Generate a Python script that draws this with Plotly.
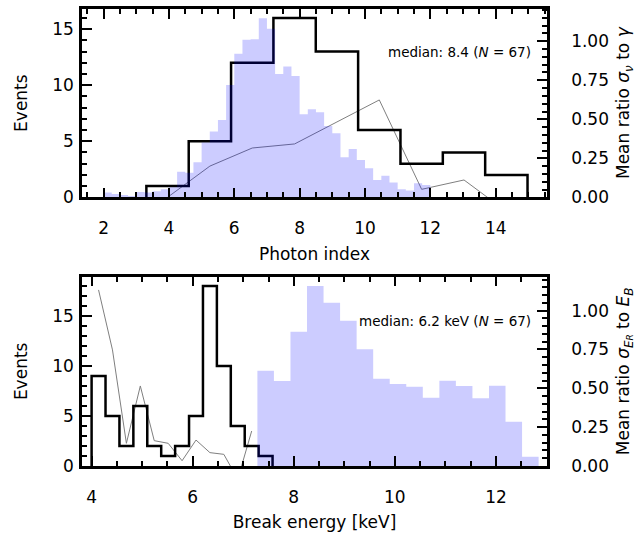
import plotly.graph_objects as go

# ---------------- Photon index panel ----------------
# fine-binned distribution (filled)
gamma_fine_lo = 2.0
gamma_fine_width = 0.25
gamma_fine_counts = [0.42, 0.30, 0.20, 0.12, 0.48, 0.42, 0.54, 0.71, 0.90, 2.29,
                     2.20, 3.13, 4.88, 5.86, 6.90, 10.03, 12.80, 14.05, 14.10, 15.98,
                     15.03, 11.00, 11.67, 10.83, 7.41, 7.86, 7.59, 6.37, 5.71, 3.57,
                     4.32, 3.33, 2.59, 1.55, 1.93, 1.31, 0.71, 0.60, 1.25, 1.10]
# coarse event histogram (step)
gamma_lo = 3.31
gamma_width = 1.296
gamma_counts = [1, 5, 12, 16, 13, 6, 3, 4, 2]
# mean ratio sigma_nu / gamma per coarse bin
gamma_ratio = [0.0, 0.20, 0.316, 0.342, 0.483, 0.624, 0.051, 0.111, -0.09]
gamma_label = "median: 8.4 (<i>N</i> = 67)"

# ---------------- Break energy panel ----------------
eb_fine_lo = 7.28
eb_fine_width = 0.3273
eb_fine_counts = [9.53, 8.50, 13.43, 18.00, 16.33, 14.53, 11.67, 8.73, 8.20, 7.93,
                  6.83, 8.53, 8.00, 6.77, 8.03, 4.43, 0.93]
eb_lo = 4.0
eb_width = 0.2754
eb_counts = [9, 5, 2, 6, 2, 1, 2, 5, 18, 10, 4, 2, 1]
eb_ratio = [1.133, 0.747, 0.146, 0.515, 0.163, 0.146, 0.034, 0.167, 0.086, 0.075,
            -0.085, 0.225, None]
eb_label = "median: 6.2 keV (<i>N</i> = 67)"

FONT = "DejaVu Sans"
FILL = "rgba(0,0,255,0.2)"


def edges(lo, width, n):
    return [lo + width * i for i in range(n + 1)]


def centers(lo, width, n):
    return [lo + width * (i + 0.5) for i in range(n)]


def step_outline(lo, width, counts):
    e = edges(lo, width, len(counts))
    return [e[0]] + e[:-1] + [e[-1]], [0] + list(counts) + [0]


def filled_hist(lo, width, counts):
    e = edges(lo, width, len(counts))
    return e, list(counts) + [counts[-1]]


fig = go.Figure()

panels = [
    # x axis, ratio axis (base), events axis (overlay), data
    ("x", "y", "y2", gamma_fine_lo, gamma_fine_width, gamma_fine_counts,
     gamma_lo, gamma_width, gamma_counts, gamma_ratio),
    ("x2", "y3", "y4", eb_fine_lo, eb_fine_width, eb_fine_counts,
     eb_lo, eb_width, eb_counts, eb_ratio),
]

for xa, ya_ratio, ya_ev, flo, fw, fc, lo, w, c, r in panels:
    # ratio curve on the underlying axis
    fig.add_trace(go.Scatter(
        x=centers(lo, w, len(c)), y=r, xaxis=xa, yaxis=ya_ratio,
        mode="lines", line=dict(color="#7f7f7f", width=1),
        showlegend=False, hoverinfo="skip", connectgaps=False))
    # coarse event histogram
    sx, sy = step_outline(lo, w, c)
    fig.add_trace(go.Scatter(
        x=sx, y=sy, xaxis=xa, yaxis=ya_ev, mode="lines",
        line=dict(color="black", width=2.5, shape="hv"),
        showlegend=False, hoverinfo="skip"))
    # translucent fine distribution drawn on top
    hx, hy = filled_hist(flo, fw, fc)
    fig.add_trace(go.Scatter(
        x=hx, y=hy, xaxis=xa, yaxis=ya_ev, mode="lines",
        line=dict(width=0, shape="hv"), fill="tozeroy", fillcolor=FILL,
        showlegend=False, hoverinfo="skip"))

tickfont = dict(family=FONT, size=17, color="black")
titlefont = dict(family=FONT, size=17, color="black")

common = dict(
    showline=True, linecolor="black", linewidth=2.5, ticks="inside",
    ticklen=10, tickwidth=2, tickcolor="black", showgrid=False,
    zeroline=False, tickfont=tickfont, automargin=False,
)
minor_x = dict(dtick=0.5, ticklen=5.5, tickwidth=1.6, ticks="inside", tickcolor="black")
minor_r = dict(dtick=0.05, ticklen=5.5, tickwidth=1.6, ticks="inside", tickcolor="black")
minor_e = dict(dtick=1, ticklen=5.5, tickwidth=1.6, ticks="inside", tickcolor="black")

h_plot = 534 - 9 - 68
top_dom = [(466 - 197.3) / h_plot, 1.0]
bot_dom = [0.0, (466 - 276.7) / h_plot]

fig.update_layout(
    width=636, height=534,
    margin=dict(l=82, r=89, t=9, b=68),
    paper_bgcolor="white", plot_bgcolor="white",
    font=dict(family=FONT, color="black"),
    xaxis=dict(**common, anchor="y", domain=[0, 1], range=[1.34, 15.57],
               tick0=0, dtick=2, mirror="ticks", ticklabelstandoff=14,
               minor=minor_x,
               title=dict(text="Photon index", font=titlefont, standoff=11)),
    yaxis=dict(**common, anchor="x", domain=top_dom, side="right",
               range=[0, 1.207], tick0=0, dtick=0.25, tickformat=".2f",
               ticklabelstandoff=18, minor=minor_r,
               title=dict(text="Mean ratio <i>σ</i><sub><i>ν</i></sub> to <i>γ</i>",
                          font=titlefont, standoff=15)),
    yaxis2=dict(**common, anchor="x", overlaying="y", side="left",
                range=[0, 16.8], tick0=0, dtick=5, ticklabelstandoff=2,
                minor=minor_e,
                title=dict(text="Events", font=titlefont, standoff=21)),
    xaxis2=dict(**common, anchor="y3", domain=[0, 1], range=[3.81, 13.01],
                tick0=0, dtick=2, mirror="ticks", ticklabelstandoff=14,
                minor=minor_x,
                title=dict(text="Break energy [keV]", font=titlefont, standoff=10)),
    yaxis3=dict(**common, anchor="x2", domain=bot_dom, side="right",
                range=[0, 1.218], tick0=0, dtick=0.25, tickformat=".2f",
                ticklabelstandoff=18, minor=minor_r,
                title=dict(text="Mean ratio <i>σ</i><sub><i>E</i><span style='font-size:9px'><i>R</i></span></sub> to <i>E</i><sub><i>B</i></sub>",
                           font=titlefont, standoff=15)),
    yaxis4=dict(**common, anchor="x2", overlaying="y3", side="left",
                range=[0, 18.93], tick0=0, dtick=5, ticklabelstandoff=2,
                minor=minor_e,
                title=dict(text="Events", font=titlefont, standoff=21)),
)

fig.add_annotation(text=gamma_label, xref="x domain", yref="y domain",
                   x=0.97, y=0.773, xanchor="right", yanchor="middle",
                   showarrow=False, font=dict(family=FONT, size=13.5, color="black"))
fig.add_annotation(text=eb_label, xref="x2 domain", yref="y3 domain",
                   x=0.97, y=0.768, xanchor="right", yanchor="middle",
                   showarrow=False, font=dict(family=FONT, size=13.5, color="black"))

fig.write_html("out.html")
